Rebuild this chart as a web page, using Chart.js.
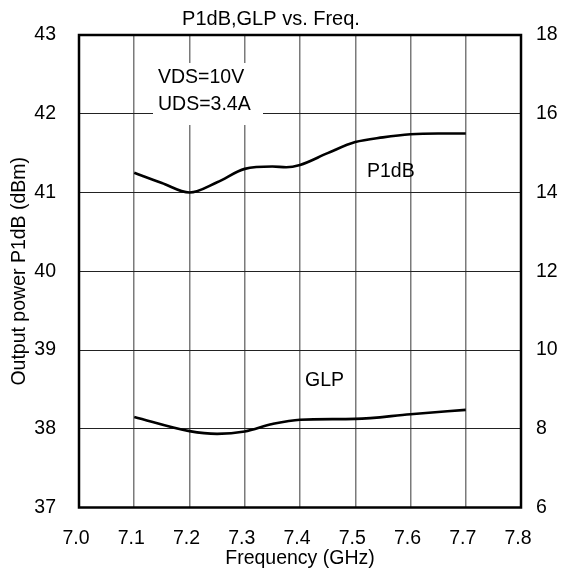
<!DOCTYPE html>
<html>
<head>
<meta charset="utf-8">
<script src="https://cdn.jsdelivr.net/npm/chart.js@4.4.1/dist/chart.umd.min.js"></script>
<style>
html,body{margin:0;padding:0;background:#fff;}
#wrap{width:562px;height:574px;position:relative;}
</style>
</head>
<body>
<div id="wrap"><canvas id="c" width="562" height="574"></canvas></div>
<script>
const freqP1dB = [7.1, 7.15, 7.2, 7.25, 7.3, 7.35, 7.375, 7.4, 7.45, 7.5, 7.55, 7.6, 7.65, 7.7];
const p1dB     = [41.25, 41.12, 41.00, 41.13, 41.30, 41.33, 41.32, 41.35, 41.50, 41.64, 41.70, 41.74, 41.75, 41.75];
const freqGLP  = [7.1, 7.2, 7.25, 7.3, 7.35, 7.4, 7.5, 7.6, 7.7];
const glp      = [8.30, 7.94, 7.87, 7.93, 8.12, 8.23, 8.25, 8.37, 8.48];
const xTicks   = [7.0, 7.1, 7.2, 7.3, 7.4, 7.5, 7.6, 7.7, 7.8];
const yLeftTicks  = [37, 38, 39, 40, 41, 42, 43];
const yRightTicks = [6, 8, 10, 12, 14, 16, 18];
const titleText = 'P1dB,GLP vs. Freq.';
const condLines = ['VDS=10V', 'UDS=3.4A'];

const FONT = '"Liberation Sans", Arial, sans-serif';
const FS = 19.5;

const overlay = {
  id: 'overlay',
  beforeDatasetsDraw(chart) {
    const ctx = chart.ctx;
    ctx.save();
    ctx.fillStyle = '#fff';
    ctx.fillRect(153, 63, 110, 62);
    ctx.fillStyle = '#000';
    ctx.font = FS + 'px ' + FONT;
    ctx.textBaseline = 'middle';
    ctx.textAlign = 'left';
    ctx.fillText(condLines[0], 158, 78);
    ctx.fillText(condLines[1], 158, 105);
    ctx.fillText('P1dB', 367, 172);
    ctx.fillText('GLP', 305, 381);
    ctx.restore();
  },
  afterDraw(chart) {
    const ctx = chart.ctx, a = chart.chartArea;
    ctx.save();
    ctx.strokeStyle = '#000';
    ctx.lineWidth = 2.5;
    ctx.strokeRect(a.left, a.top, a.right - a.left, a.bottom - a.top);
    ctx.fillStyle = '#000';
    ctx.font = '20px ' + FONT;
    ctx.textAlign = 'center';
    ctx.textBaseline = 'alphabetic';
    ctx.fillText(titleText, 271, 25);
    ctx.restore();
  }
};

new Chart(document.getElementById('c'), {
  type: 'line',
  data: {
    datasets: [
      {
        label: 'P1dB',
        data: freqP1dB.map((f, i) => ({x: f, y: p1dB[i]})),
        yAxisID: 'y',
        borderColor: '#000',
        borderWidth: 2.6,
        pointRadius: 0,
        tension: 0.4,
        cubicInterpolationMode: 'monotone',
        fill: false
      },
      {
        label: 'GLP',
        data: freqGLP.map((f, i) => ({x: f, y: glp[i]})),
        yAxisID: 'y2',
        borderColor: '#000',
        borderWidth: 2.6,
        pointRadius: 0,
        tension: 0.3,
        cubicInterpolationMode: 'monotone',
        fill: false
      }
    ]
  },
  options: {
    responsive: false,
    animation: false,
    devicePixelRatio: 1,
    layout: {padding: {top: 35, left: 0, right: 0, bottom: 0}},
    plugins: {legend: {display: false}, title: {display: false}, tooltip: {enabled: false}},
    scales: {
      x: {
        type: 'linear',
        min: 7.0, max: 7.8,
        afterBuildTicks: s => { s.ticks = xTicks.map(v => ({value: v})); },
        afterFit: s => { s.height = 66.5; },
        ticks: {
          color: '#000', font: {family: FONT, size: FS}, padding: 19,
          maxRotation: 0, autoSkip: false, labelOffset: -3,
          callback: v => Number(v).toFixed(1)
        },
        grid: {color: '#7a7a7a', lineWidth: 1.5, drawTicks: false},
        border: {display: false},
        title: {display: true, text: 'Frequency (GHz)', color: '#000', font: {family: FONT, size: FS}, padding: {top: 0, bottom: 4}}
      },
      y: {
        type: 'linear', position: 'left',
        min: 37, max: 43,
        afterBuildTicks: s => { s.ticks = yLeftTicks.map(v => ({value: v})); },
        afterFit: s => { s.width = 79; },
        ticks: {color: '#000', font: {family: FONT, size: FS}, padding: 23},
        grid: {color: '#222', lineWidth: 1, drawTicks: false},
        border: {display: false},
        title: {display: true, text: 'Output power P1dB (dBm)', color: '#000', font: {family: FONT, size: FS}, padding: {top: 8, bottom: 0}}
      },
      y2: {
        type: 'linear', position: 'right',
        min: 6, max: 18,
        afterBuildTicks: s => { s.ticks = yRightTicks.map(v => ({value: v})); },
        afterFit: s => { s.width = 41; },
        ticks: {color: '#000', font: {family: FONT, size: FS}, padding: 15},
        grid: {drawOnChartArea: false, drawTicks: false},
        border: {display: false}
      }
    }
  },
  plugins: [overlay]
});
</script>
</body>
</html>
